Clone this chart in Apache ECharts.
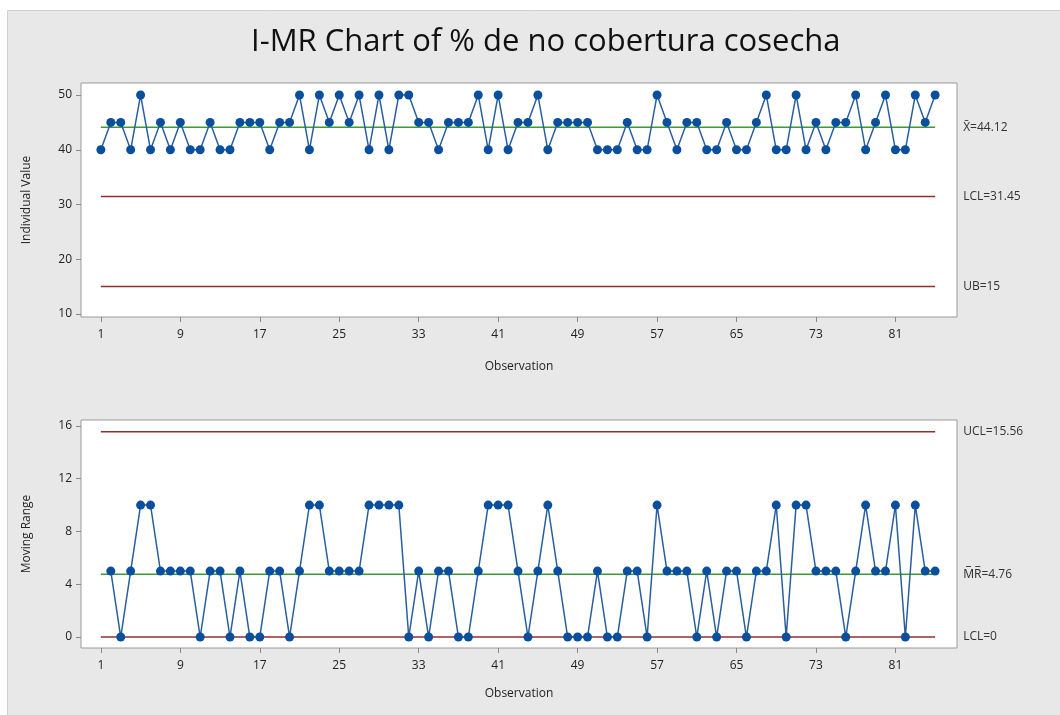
<!DOCTYPE html>
<html>
<head>
<meta charset="utf-8">
<script src="https://cdn.jsdelivr.net/npm/echarts@6/dist/echarts.min.js"></script>
<style>
  html, body { margin: 0; padding: 0; background: #fff; }
  #chart { width: 1060px; height: 715px; }
</style>
</head>
<body>
<div id="chart"></div>
<script>
// individual values, observations 1..85
const individual = [
  40, 45, 45, 40, 50, 40, 45, 40, 45, 40,
  40, 45, 40, 40, 45, 45, 45, 40, 45, 45,
  50, 40, 50, 45, 50, 45, 50, 40, 50, 40,
  50, 50, 45, 45, 40, 45, 45, 45, 50, 40,
  50, 40, 45, 45, 50, 40, 45, 45, 45, 45,
  40, 40, 40, 45, 40, 40, 50, 45, 40, 45,
  45, 40, 40, 45, 40, 40, 45, 50, 40, 40,
  50, 40, 45, 40, 45, 45, 50, 40, 45, 50,
  40, 40, 50, 45, 50
];
// moving ranges, observations 2..85
const movingRange = [
      5,  0,  5, 10, 10,  5,  5,  5,  5,
   0,  5,  5,  0,  5,  0,  0,  5,  5,  0,
   5, 10, 10,  5,  5,  5,  5, 10, 10, 10,
  10,  0,  5,  0,  5,  5,  0,  0,  5, 10,
  10, 10,  5,  0,  5, 10,  5,  0,  0,  0,
   5,  0,  0,  5,  5,  0, 10,  5,  5,  5,
   0,  5,  0,  5,  5,  0,  5,  5, 10,  0,
  10, 10,  5,  5,  5,  0,  5, 10,  5,  5,
  10,  0, 10,  5,  5
];
const xTicks = [1, 9, 17, 25, 33, 41, 49, 57, 65, 73, 81];
const iTicks = [10, 20, 30, 40, 50];
const mrTicks = [0, 4, 8, 12, 16];
// reference lines: [label, value]
const iLines = { mean: ['X\u0304=44.12', 44.12], lcl: ['LCL=31.45', 31.45], ub: ['UB=15', 15] };
const mrLines = { mean: ['M\u0305R\u0305=4.76', 4.76], ucl: ['UCL=15.56', 15.56], lcl: ['LCL=0', 0] };

const FONT = "'Open Sans', 'Noto Sans', sans-serif";
const BLUE = '#0a4f9e';
const GREEN = '#3d9b35';
const RED = '#962d2d';
const firstObs = 1, lastObs = individual.length;

const chart = echarts.init(document.getElementById('chart'));

function xAxisCfg(gi, gap) {
  return {
    gridIndex: gi, type: 'value', min: -1, max: 87.2,
    name: 'Observation', nameLocation: 'middle', nameGap: gap,
    nameTextStyle: { fontFamily: FONT, fontSize: 12, color: '#222' },
    axisLine: { show: false, onZero: false },
    axisTick: { show: true, length: 5, lineStyle: { color: '#888' }, customValues: xTicks },
    axisLabel: { fontFamily: FONT, fontSize: 12, color: '#222', margin: 12, customValues: xTicks },
    splitLine: { show: false }
  };
}
function yAxisCfg(gi, name, min, max, ticks) {
  return {
    gridIndex: gi, type: 'value', min: min, max: max,
    name: name, nameLocation: 'middle', nameGap: 48,
    nameTextStyle: { fontFamily: FONT, fontSize: 12, color: '#222' },
    axisLine: { show: false, onZero: false },
    axisTick: { show: true, length: 5, lineStyle: { color: '#888' }, customValues: ticks },
    axisLabel: { fontFamily: FONT, fontSize: 12, color: '#222', margin: 9, customValues: ticks },
    splitLine: { show: false }
  };
}
function refLine(gi, item, color) {
  return {
    type: 'line', xAxisIndex: gi, yAxisIndex: gi, silent: true, symbol: 'none',
    lineStyle: { color: color, width: 1.5 },
    data: [[firstObs, item[1]], [lastObs, item[1]]],
    endLabel: {
      show: true, formatter: item[0], distance: 28,
      fontFamily: FONT, fontSize: 12, color: '#333'
    },
    z: 1
  };
}

const option = {
  backgroundColor: '#fff',
  animation: false,
  graphic: [{
    type: 'rect', left: 7, top: 10, z: -10,
    shape: { width: 1060, height: 710 },
    style: { fill: '#e8e8e8', stroke: '#cfcfcf', lineWidth: 1 }
  }],
  title: {
    text: 'I-MR Chart of % de no cobertura cosecha',
    left: 246, top: 22,
    textStyle: { fontFamily: FONT, fontSize: 31, fontWeight: 'normal', color: '#111' }
  },
  grid: [
    { left: 81, top: 83, right: 103, height: 234, show: true, backgroundColor: '#fff', borderColor: '#9a9a9a', borderWidth: 1 },
    { left: 81, top: 420, right: 103, height: 228, show: true, backgroundColor: '#fff', borderColor: '#9a9a9a', borderWidth: 1 }
  ],
  xAxis: [xAxisCfg(0, 44), xAxisCfg(1, 40)],
  yAxis: [
    yAxisCfg(0, 'Individual Value', 9.45, 52.2, iTicks),
    yAxisCfg(1, 'Moving Range', -0.83, 16.45, mrTicks)
  ],
  series: [
    refLine(0, iLines.mean, GREEN),
    refLine(0, iLines.lcl, RED),
    refLine(0, iLines.ub, RED),
    {
      type: 'line', xAxisIndex: 0, yAxisIndex: 0,
      data: individual.map((v, i) => [i + 1, v]),
      symbol: 'circle', symbolSize: 9,
      itemStyle: { color: BLUE },
      lineStyle: { color: '#2a5f9e', width: 1.5 },
      z: 3
    },
    refLine(1, mrLines.ucl, RED),
    refLine(1, mrLines.mean, GREEN),
    refLine(1, mrLines.lcl, RED),
    {
      type: 'line', xAxisIndex: 1, yAxisIndex: 1,
      data: movingRange.map((v, i) => [i + 2, v]),
      symbol: 'circle', symbolSize: 9,
      itemStyle: { color: BLUE },
      lineStyle: { color: '#2a5f9e', width: 1.5 },
      z: 3
    }
  ]
};
chart.setOption(option);
</script>
</body>
</html>
